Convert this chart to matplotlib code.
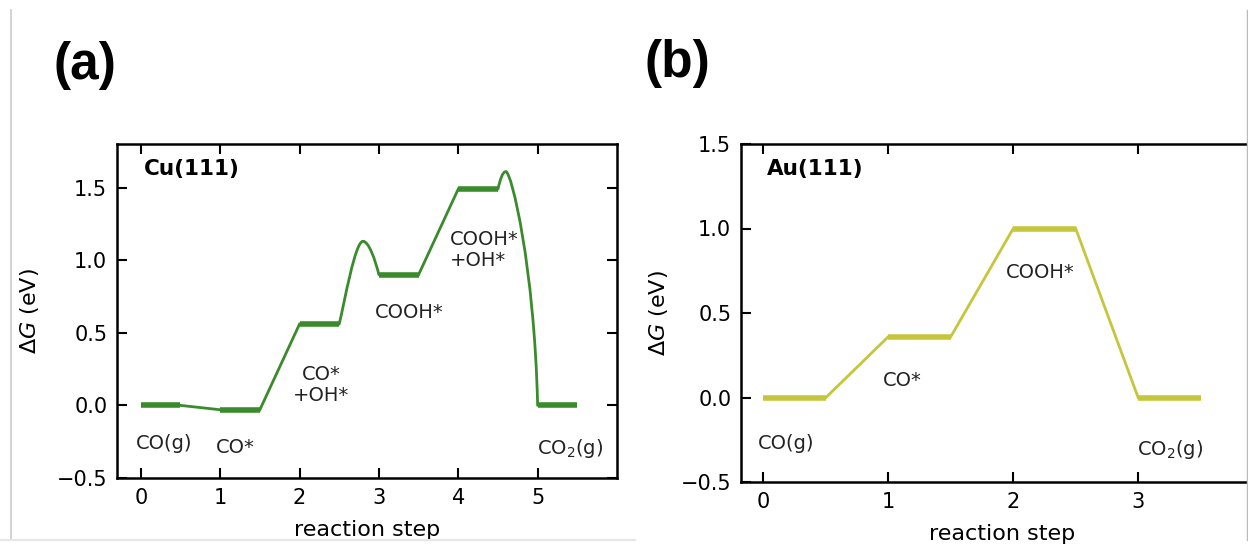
import matplotlib.pyplot as plt
from matplotlib.path import Path
from matplotlib.patches import PathPatch

# Cu(111) free energy levels for each reaction step
cu_steps = [0, 1, 2, 3, 4, 5]
cu_dg = [0.0, -0.03, 0.56, 0.90, 1.49, 0.0]
cu_labels = ['CO(g)', 'CO*', 'CO*\n+OH*', 'COOH*', 'COOH*\n+OH*', 'CO$_2$(g)']
cu_label_x = [0.29, 1.19, 2.27, 3.38, 3.90, 5.41]
cu_label_y = [-0.26, -0.29, 0.14, 0.64, 1.07, -0.30]
cu_label_ha = ['center', 'center', 'center', 'center', 'left', 'center']

# Bezier control points of the two barriers on Cu(111)
cu_barrier1_x = [2.5, 2.57, 2.70, 2.80, 2.87, 2.95, 3.0]
cu_barrier1_y = [0.56, 0.72, 1.13, 1.13, 1.13, 1.01, 0.90]
cu_barrier2_x = [4.5, 4.53, 4.56, 4.60, 4.67, 4.96, 5.0]
cu_barrier2_y = [1.49, 1.56, 1.61, 1.61, 1.61, 0.95, 0.0]

# Au(111) free energy levels
au_steps = [0, 1, 2, 3]
au_dg = [0.0, 0.36, 1.0, 0.0]
au_labels = ['CO(g)', 'CO*', 'COOH*', 'CO$_2$(g)']
au_label_x = [0.18, 1.11, 2.22, 3.26]
au_label_y = [-0.27, 0.10, 0.74, -0.31]

cu_color = '#3a8b2c'
au_color = '#c5c63c'


def bezier_curve(ax, xs, ys, color):
    # two cubic segments: start -> peak -> end
    verts = list(zip(xs, ys))
    codes = [Path.MOVETO] + [Path.CURVE4] * 6
    patch = PathPatch(Path(verts, codes), fill=False, edgecolor=color, lw=2.0,
                      transform=ax.transData, capstyle='round')
    ax.add_patch(patch)


def energy_diagram(ax, steps, dg, color, barriers):
    # thick plateaus for each state
    for s, g in zip(steps, dg):
        ax.plot([s, s + 0.5], [g, g], color=color, lw=4.0, solid_capstyle='butt')
    # thin connectors between states
    for i in range(len(steps) - 1):
        if i in barriers:
            bezier_curve(ax, barriers[i][0], barriers[i][1], color)
        else:
            ax.plot([steps[i] + 0.5, steps[i + 1]], [dg[i], dg[i + 1]], color=color, lw=2.0)


def style_axes(ax):
    ax.tick_params(direction='in', top=True, right=True, length=7, width=1.5,
                   labelsize=15, pad=7)
    for sp in ax.spines.values():
        sp.set_linewidth(1.8)
    ax.set_xlabel('reaction step', fontsize=16, labelpad=9)
    ax.set_ylabel(r'$\Delta G$ (eV)', fontsize=16, labelpad=11)


fig = plt.figure(figsize=(12.48, 5.44), dpi=100)

# Panel (a): Cu(111)
ax1 = fig.add_axes([117 / 1248, 66 / 544, 500 / 1248, 334 / 544])
energy_diagram(ax1, cu_steps, cu_dg, cu_color,
               {2: (cu_barrier1_x, cu_barrier1_y), 4: (cu_barrier2_x, cu_barrier2_y)})
for lab, x, y, ha in zip(cu_labels, cu_label_x, cu_label_y, cu_label_ha):
    ax1.text(x, y, lab, fontsize=14, ha=ha, va='center', color='#222222', linespacing=1.1)
ax1.text(0.04, 1.63, 'Cu(111)', fontsize=15.5, fontweight='bold', va='center')
ax1.set_xlim(-0.3, 6.0)
ax1.set_ylim(-0.5, 1.8)
ax1.set_xticks(cu_steps)
ax1.set_yticks([-0.5, 0.0, 0.5, 1.0, 1.5])
style_axes(ax1)

# Panel (b): Au(111), right edge runs past the image like in the screenshot
ax2 = fig.add_axes([741 / 1248, 62 / 544, 522 / 1248, 338 / 544])
energy_diagram(ax2, au_steps, au_dg, au_color, {})
for lab, x, y in zip(au_labels, au_label_x, au_label_y):
    ax2.text(x, y, lab, fontsize=14, ha='center', va='center', color='#222222')
ax2.text(0.03, 1.355, 'Au(111)', fontsize=15.5, fontweight='bold', va='center')
ax2.set_xlim(-0.18, 4.0)
ax2.set_ylim(-0.5, 1.5)
ax2.set_xticks(au_steps)
ax2.set_yticks([-0.5, 0.0, 0.5, 1.0, 1.5])
style_axes(ax2)
ax2.yaxis.labelpad = 8

# Panel letters
fig.text(54 / 1248, 1 - 65 / 544, '(a)', fontsize=37, fontweight='bold',
         family='Liberation Sans', va='center', ha='left')
fig.text(644 / 1248, 1 - 63 / 544, '(b)', fontsize=37, fontweight='bold',
         family='Liberation Sans', va='center', ha='left')

# screenshot frame lines
fig.add_artist(plt.Line2D([11 / 1248, 11 / 1248], [4 / 544, 1 - 10 / 544], color='#cccccc', lw=1.2))
fig.add_artist(plt.Line2D([0, 635 / 1248], [4 / 544, 4 / 544], color='#e6e6e6', lw=1.5))
fig.add_artist(plt.Line2D([1247 / 1248, 1247 / 1248], [4 / 544, 1 - 10 / 544], color='#bbbbbb', lw=1.0))

fig.savefig('out.png', dpi=100)
